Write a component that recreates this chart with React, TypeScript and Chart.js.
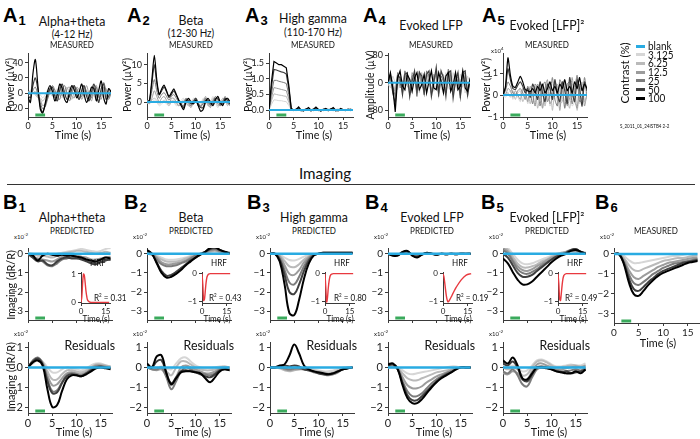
import React, { useEffect, useRef } from "react";
import { Chart, registerables } from "chart.js";
Chart.register(...registerables);

const FONT = "Lato, 'Open Sans', sans-serif";
const BOLD_FONT = "'Liberation Sans', Arial, sans-serif";
const AXIS = "#3a3a3a";
const BLUE = "#29abe2";
const GREEN = "#3aaa5c";
const RED = "#e8393f";

const LEGEND_LABELS = ["blank", "3.125", "6.25", "12.5", "25", "50", "100"];
const GRAYS = ["#d6d6d6", "#bababa", "#9c9c9c", "#7c7c7c", "#3f3f3f", "#000000"];

const STIM = [1.5, 3.5];
const X_TICKS = [0, 5, 10, 15];
const INSET_X_TICKS = [0, 15];

const A_TIME = [0, 0.5, 1, 1.5, 2, 2.5, 3, 3.5, 4, 4.5, 5, 5.5, 6, 6.5, 7, 7.5, 8, 8.5, 9, 9.5, 10, 10.5, 11, 11.5, 12, 12.5, 13, 13.5, 14, 14.5, 15, 15.5, 16, 16.5, 17];
const B_TIME = [0, 1, 2, 3, 4, 5, 6, 7, 8, 9, 10, 11, 12, 13, 14, 15, 16, 17];
const HRF_TIME = [0, 0.5, 1, 1.5, 2, 2.5, 3, 3.5, 4, 5, 6, 8, 11, 14, 17];
const BLANK_TIME = [0, 17];
const BLANK = [0, 0];

// ---- A1 Alpha+theta (measured, uV^2)
const A1_3 = [2, -2, 4, 0, -4, -2, -6, -2, 4, 0, -4, 2, 6, -2, -6, 4, 2, -6, 0, 6, -2, -6, 2, 4, -4, 2, 6, -4, -6, 6, 10, -2, -6, 4, 0];
const A1_6 = [0, 4, 2, -2, -6, -6, -10, -6, 0, 4, -2, -6, 4, 6, -4, 2, 8, -2, -8, 2, 6, -2, -4, 6, 4, -6, 0, 6, -2, -10, 2, 8, -4, 0, 4];
const A1_12 = [2, 2, 0, 2, -4, -8, -16, -14, -4, 6, 4, -4, 2, 8, -2, -6, 6, 8, -4, -6, 8, 4, -8, 0, 10, -2, -10, 4, 10, -4, -8, 8, 6, -6, 2];
const A1_25 = [0, -2, 4, 8, -2, -12, -20, -18, -8, 2, 10, 4, -6, -8, 6, 10, -2, -10, 0, 8, 6, -6, -4, 8, 2, -8, -6, 10, 8, -6, -2, 14, 2, -8, 0];
const A1_50 = [-3, -6, 10, 20, 6, -16, -24, -16, -4, 6, 8, -4, -10, 4, 12, 0, -8, -4, 6, 10, -2, -8, 4, 10, -4, -10, 2, 12, 0, -12, 6, 12, -8, -4, 4];
const A1_100 = [-5, -12, 25, 44, 12, -20, -26, -14, 2, 10, 2, -10, -2, 12, 6, -8, -12, 2, 10, 4, -6, 2, 12, -2, -12, -4, 8, 6, -10, 4, 16, -6, -14, 6, 2];

// ---- A2 Beta
const A2_3 = [-0.5, 0.5, 0, 0.5, 0, -1, -0.5, 0, -0.5, -1, 0.5, 0, -1, -0.5, 0.5, 1, -0.5, -1, 0, 1, 0.5, -1, -0.5, 1, 0.5, -1, 0, 1.5, 0, -1.5, 0, 1, 0, -0.5, 0.5];
const A2_6 = [0.5, 0, 0.5, 1, 0.5, -0.5, 0, 0.5, 0, -1, 0, 0.5, -0.5, -1, 0, 0.5, 0, -1, -1, 0.5, 1, -0.5, -1, 0.5, 1, -1, -1, 1, 0.5, -1, -0.5, 1, 0.5, -1, 0];
const A2_12 = [0, -0.5, 1, 3, 1.5, 0, 1, 1.5, 0.5, -0.5, 1, 1, 0, -1, -0.5, 0, 1, -0.5, -1.5, 0, 1, 0, -1.5, 0, 1.5, -0.5, -1.5, 0.5, 1, -0.5, -1, 0.5, 1, -0.5, -0.5];
const A2_25 = [0, 0, 3, 6, 3, 1, 2, 2.5, 1.5, 0.5, 1.5, 2, 1, 0, -1, -1, 1, 0, -1, 0.5, 1, -1, -1, -0.5, 1, 0, -1, 0, 1.5, 0.5, -1, 0, 1.5, 0, -1];
const A2_50 = [0, 0.3, 5, 10, 5, 2, 3, 4, 2.8, 1.2, 2, 3, 1.8, 0.5, -0.5, -1.5, 0.5, 0.5, -0.5, 0, 1, -0.5, -1.5, -1.5, 0.5, 0.5, -0.5, -0.5, 1, 1, -0.5, -0.5, 1, 0.5, -0.5];
const A2_100 = [0, 0.5, 6, 12.5, 6, 2, 3.5, 4.5, 3, 1.5, 2.5, 3.5, 2, 0.5, -1, -2, 0, 1, 0, -0.5, 0.5, -1, -2.5, -2, 0, 1, 0, -1, 0.5, 1.5, 0, -1, 0.5, 1, 0];

// ---- A3 High gamma
const A3_3 = [0, 0.18, 0.33, 0.32, 0.3, 0.3, 0.28, 0.27, 0.15, 0, 0.01, -0.01, 0.01, 0.02, 0, -0.01, 0.01, 0, 0.02, 0, -0.01, 0.01, 0, 0.02, 0, -0.01, 0.01, 0.02, 0, -0.01, 0, 0.01, 0.02, 0, 0.01];
const A3_6 = [0, 0.3, 0.52, 0.5, 0.48, 0.47, 0.45, 0.44, 0.25, 0.01, -0.01, 0.02, 0, -0.02, 0.01, 0.02, 0, -0.02, 0.01, 0.02, 0, -0.01, 0.02, 0, -0.02, 0.01, 0.02, 0, -0.01, 0.01, 0.02, 0, -0.01, 0.01, 0];
const A3_12 = [0, 0.4, 0.72, 0.7, 0.68, 0.66, 0.64, 0.62, 0.36, 0.02, 0, -0.02, 0.03, 0.02, -0.02, 0, 0.03, 0.02, -0.02, 0.02, 0.03, 0, -0.02, 0.02, 0.03, 0, -0.02, 0.02, 0.03, 0, -0.01, 0.02, 0.01, -0.02, 0.01];
const A3_25 = [0, 0.55, 0.95, 0.95, 0.92, 0.9, 0.88, 0.85, 0.5, 0.03, -0.02, 0.02, 0.04, 0, -0.03, 0.02, 0.04, 0, 0.01, 0.03, -0.02, 0, 0.02, 0.04, 0, 0.02, 0.03, -0.03, 0.01, 0.02, 0, 0.02, -0.01, 0.02, 0.01];
const A3_50 = [0, 0.75, 1.3, 1.28, 1.25, 1.22, 1.2, 1.15, 0.7, 0.04, 0, 0.03, 0.05, -0.02, 0, 0.04, 0.02, -0.03, 0.02, 0.06, 0, -0.02, 0.03, 0.02, -0.02, 0.04, 0.05, -0.02, 0, 0.03, 0, -0.02, 0.02, 0.03, 0];
const A3_100 = [0, 0.9, 1.55, 1.5, 1.45, 1.45, 1.4, 1.35, 0.8, 0.05, 0, 0.02, 0.1, 0, -0.02, 0.03, 0.08, 0, 0.03, 0.1, 0.02, -0.03, 0.02, 0.05, 0, 0.03, 0.08, 0, -0.02, 0.05, 0.02, 0, 0.03, 0, 0.02];

// ---- A4 Evoked LFP (uV)
const A4_3 = [0, -15, 20, 0, -20, 25, 5, -25, 20, 10, -30, 15, 20, -30, 10, 25, -30, 0, 30, -25, -5, 30, -20, -10, 30, -15, -20, 30, -5, -25, 25, 10, -30, 20, 0];
const A4_6 = [-10, 15, 5, -25, 10, 20, -30, 10, 25, -25, -5, 30, -15, -5, 30, -25, -5, 25, -20, -10, 35, -20, -5, 25, -30, 5, 30, -30, 0, 30, -20, -10, 30, -15, -5];
const A4_12 = [10, 10, -25, -20, 25, -15, -5, 30, -10, -20, 30, 10, -30, 25, -10, -20, 30, 5, -35, 25, 15, -30, 10, -15, -20, 35, 5, -25, 30, 0, -35, 25, 10, -30, 0];
const A4_25 = [-5, 20, -10, -40, 30, 0, -20, 35, 15, -35, 20, 25, -40, 35, 5, -35, 35, 20, -30, 15, 30, -40, 20, 5, -30, 40, 20, -35, 20, 15, -45, 35, 25, -40, 5];
const A4_50 = [5, 25, -30, -60, 20, 15, -35, 25, 30, -40, 5, 35, -25, 30, 20, -30, 25, 35, -40, 0, 45, -30, 35, 15, -40, 30, 35, -45, 5, 30, -40, 30, 35, -35, 15];
const A4_100 = [0, 30, -15, -85, 15, 35, -10, -20, 25, 10, -25, 15, 30, -20, -5, 25, -30, 5, 35, -15, -20, 30, 5, -30, 20, 30, -25, -5, 30, -20, -10, 35, -15, -25, 10];

// ---- A5 Evoked [LFP]^2 (x10^4 uV^2)
const A5_3 = [0, -0.1, 0.1, 0.2, -0.2, 0.1, -0.1, -0.3, 0.2, 0.3, -0.4, 0.1, 0.3, -0.5, 0.2, 0.4, -0.6, 0.2, 0.5, -0.5, -0.2, 0.6, -0.3, 0.2, 0.5, -0.6, 0.1, 0.4, -0.5, -0.3, 0.6, -0.4, -0.1, 0.4, -0.2];
const A5_6 = [-0.1, 0.1, 0.1, -0.1, 0.2, -0.2, 0.1, 0.2, -0.3, 0, 0.3, -0.4, 0.2, 0.4, -0.6, 0, 0.5, -0.5, 0.1, 0.6, -0.7, 0.2, 0.5, -0.4, -0.3, 0.7, -0.2, -0.6, 0.5, 0.4, -0.7, 0.1, 0.6, -0.3, 0];
const A5_12 = [0.1, 0, 0.3, 0.2, -0.1, 0.2, 0, -0.2, 0.3, 0.2, -0.3, 0.4, 0, -0.5, 0.5, 0.2, -0.6, 0.3, 0.7, -0.4, -0.1, 0.6, 0.3, -0.7, 0.4, 0.5, -0.5, -0.1, 0.8, -0.2, -0.6, 0.5, 0.4, -0.5, 0.1];
const A5_25 = [0, 0.2, 0.6, 0.4, 0.1, 0, 0.2, 0.3, 0.1, -0.2, 0.4, 0.1, -0.4, 0.5, 0.3, -0.5, 0.4, 0.6, -0.3, 0, 0.8, -0.2, -0.5, 0.7, 0.4, -0.6, 0.5, 0.6, -0.4, 0.2, 0.9, -0.3, -0.2, 0.8, 0];
const A5_50 = [0, 0.3, 1.2, 0.7, 0.3, 0.25, 0.45, 0.6, 0.4, 0.1, 0.3, -0.1, 0.5, 0.2, -0.2, 0.6, 0.1, -0.3, 0.5, 0.3, -0.2, 0.7, 0, -0.3, 0.6, 0.2, -0.4, 0.8, 0.1, -0.3, 0.7, 0.3, -0.5, 0.6, 0.2];
const A5_100 = [0, 0.4, 1.7, 0.9, 0.4, 0.35, 0.6, 0.85, 0.6, 0.25, 0.2, 0.15, 0.3, 0.1, 0.4, 0.2, 0.5, 0.1, 0.3, 0.6, 0.2, 0.4, 0.1, 0.5, 0.3, 0.7, 0.2, 0.4, 0.1, 0.6, 0.3, 0.8, 0.2, 0.5, 0.3];

// ---- B predicted (x10^-2 dR/R)
const B1P_3 = [0.05, 0, -0.05, -0.05, -0.05, -0.1, 0, 0.05, 0.1, 0.15, 0.2, 0.25, 0.2, 0.15, 0.1, 0.15, 0.25, 0.3];
const B1P_6 = [0, -0.05, -0.1, -0.1, -0.15, -0.2, -0.1, 0, 0.05, 0.1, 0.15, 0.15, 0.1, 0.05, 0, 0.05, 0.1, 0.05];
const B1P_12 = [0, -0.15, -0.25, -0.3, -0.35, -0.4, -0.3, -0.15, -0.1, -0.1, -0.1, -0.15, -0.2, -0.3, -0.3, -0.25, -0.2, -0.15];
const B1P_25 = [0, -0.2, -0.3, -0.4, -0.6, -0.65, -0.5, -0.3, -0.25, -0.2, -0.2, -0.25, -0.35, -0.45, -0.5, -0.4, -0.3, -0.3];
const B1P_50 = [0, -0.2, -0.4, -0.35, -0.55, -0.6, -0.4, -0.25, -0.2, -0.25, -0.25, -0.3, -0.4, -0.5, -0.55, -0.45, -0.35, -0.3];
const B1P_100 = [0, -0.1, -0.35, -0.1, 0, -0.05, -0.1, -0.05, -0.1, -0.1, -0.15, -0.2, -0.3, -0.35, -0.4, -0.3, -0.2, -0.25];

const B2P_3 = [0, -0.05, -0.1, -0.2, -0.3, -0.32, -0.3, -0.25, -0.2, -0.1, -0.05, 0, 0.05, 0.1, 0.1, 0.05, 0, 0];
const B2P_6 = [0, -0.05, -0.15, -0.3, -0.4, -0.42, -0.4, -0.35, -0.25, -0.15, -0.05, 0, 0.05, 0.1, 0.15, 0.1, 0.05, 0];
const B2P_12 = [0.05, 0, -0.2, -0.45, -0.55, -0.55, -0.5, -0.45, -0.35, -0.2, -0.1, 0, 0.05, 0.15, 0.2, 0.1, 0.05, 0];
const B2P_25 = [0.1, 0, -0.3, -0.55, -0.65, -0.65, -0.6, -0.5, -0.4, -0.25, -0.1, 0, 0.1, 0.2, 0.25, 0.15, 0.05, 0];
const B2P_50 = [0.15, 0, -0.45, -0.9, -1.15, -1.1, -0.95, -0.75, -0.55, -0.35, -0.2, -0.05, 0.1, 0.25, 0.3, 0.2, 0.1, 0];
const B2P_100 = [0.2, 0, -0.5, -1.0, -1.25, -1.2, -1.05, -0.85, -0.6, -0.4, -0.2, -0.05, 0.1, 0.3, 0.35, 0.2, 0.1, 0.05];

const B3P_3 = [0, 0, -0.05, -0.2, -0.33, -0.35, -0.27, -0.15, -0.06, -0.01, 0, 0.01, 0.01, 0.01, 0.01, 0.01, 0.01, 0.01];
const B3P_6 = [0, 0, -0.1, -0.38, -0.66, -0.7, -0.55, -0.3, -0.12, -0.03, 0, 0.02, 0.02, 0.02, 0.02, 0.02, 0.02, 0.02];
const B3P_12 = [0, 0, -0.15, -0.6, -1.05, -1.1, -0.85, -0.45, -0.18, -0.04, 0, 0.03, 0.03, 0.03, 0.03, 0.03, 0.03, 0.03];
const B3P_25 = [0, 0, -0.25, -0.85, -1.5, -1.6, -1.2, -0.65, -0.25, -0.05, 0, 0.04, 0.04, 0.04, 0.04, 0.04, 0.04, 0.04];
const B3P_50 = [0, 0, -0.3, -1.1, -2.0, -2.1, -1.6, -0.9, -0.35, -0.08, 0, 0.05, 0.05, 0.05, 0.05, 0.05, 0.05, 0.05];
const B3P_100 = [0, 0, -0.4, -1.6, -3.1, -3.2, -2.4, -1.3, -0.5, -0.1, 0, 0.05, 0.05, 0.05, 0.05, 0.05, 0.05, 0.05];

const B4P_3 = [0, -0.02, -0.02, 0.02, 0.03, -0.02, -0.03, 0, 0.01, 0, 0, 0, 0, 0, 0, 0, 0, 0];
const B4P_6 = [0, -0.03, -0.03, 0.03, 0.05, -0.03, -0.05, -0.01, 0.01, 0, -0.01, 0, 0, 0, 0, 0, 0, 0];
const B4P_12 = [0, -0.04, -0.04, 0.04, 0.07, -0.04, -0.08, -0.02, 0.02, 0, -0.02, 0, -0.01, 0, 0, 0, 0, 0];
const B4P_25 = [0, -0.06, -0.06, 0.06, 0.1, -0.06, -0.12, -0.03, 0.03, 0, -0.03, 0, -0.02, 0, -0.01, 0, 0, 0];
const B4P_50 = [0, -0.08, -0.08, 0.08, 0.12, -0.08, -0.15, -0.04, 0.04, 0, -0.04, 0, -0.02, 0, -0.02, 0, 0, 0];
const B4P_100 = [0, -0.1, -0.1, 0.1, 0.15, -0.1, -0.2, -0.05, 0.05, 0, -0.05, 0, -0.03, 0, -0.02, 0, -0.01, 0];

const B5P_3 = [0.5, 0.3, 0, -0.3, -0.5, -0.55, -0.5, -0.4, -0.3, -0.2, -0.1, 0, 0.05, 0.1, 0.1, 0.05, 0, 0];
const B5P_6 = [0.45, 0.2, -0.15, -0.5, -0.7, -0.72, -0.65, -0.55, -0.4, -0.3, -0.15, -0.05, 0.05, 0.1, 0.15, 0.1, 0.05, 0];
const B5P_12 = [0.3, 0.1, -0.3, -0.65, -0.85, -0.9, -0.8, -0.65, -0.5, -0.35, -0.2, -0.1, 0, 0.1, 0.2, 0.15, 0.1, 0];
const B5P_25 = [0.2, 0, -0.4, -0.8, -1.0, -1.05, -0.95, -0.8, -0.6, -0.45, -0.3, -0.15, -0.05, 0.05, 0.15, 0.2, 0.1, 0.05];
const B5P_50 = [0, -0.2, -0.6, -1.0, -1.2, -1.2, -1.1, -0.9, -0.7, -0.5, -0.3, -0.15, -0.05, 0.05, 0.2, 0.25, 0.1, 0];
const B5P_100 = [-0.25, -0.5, -0.95, -1.35, -1.6, -1.6, -1.45, -1.2, -0.95, -0.7, -0.45, -0.25, -0.1, 0, 0.15, 0.2, 0.1, 0];

// ---- B6 measured imaging
const B6_3 = [0.05, 0, -0.1, -0.3, -0.45, -0.45, -0.4, -0.35, -0.3, -0.25, -0.2, -0.15, -0.1, -0.1, -0.05, 0, 0, 0];
const B6_6 = [0, 0, -0.2, -0.55, -0.8, -0.85, -0.75, -0.65, -0.55, -0.45, -0.35, -0.3, -0.25, -0.2, -0.2, -0.15, -0.1, -0.1];
const B6_12 = [0, 0, -0.3, -0.8, -1.15, -1.25, -1.1, -0.95, -0.8, -0.65, -0.55, -0.45, -0.4, -0.35, -0.3, -0.25, -0.2, -0.2];
const B6_25 = [0, 0, -0.4, -1.0, -1.45, -1.55, -1.4, -1.2, -1.0, -0.85, -0.7, -0.6, -0.5, -0.45, -0.4, -0.35, -0.3, -0.25];
const B6_50 = [0, 0, -0.45, -1.2, -1.75, -1.85, -1.65, -1.4, -1.2, -1.0, -0.85, -0.75, -0.65, -0.55, -0.45, -0.4, -0.35, -0.3];
const B6_100 = [0, 0, -0.5, -1.4, -2.0, -2.1, -1.85, -1.55, -1.3, -1.1, -0.95, -0.85, -0.75, -0.65, -0.55, -0.45, -0.4, -0.35];

// ---- B residuals
const B1R_3 = [0, 0.2, 0.35, 0.3, 0, -0.25, -0.25, -0.1, 0, -0.05, -0.1, -0.15, -0.05, 0.1, 0.2, 0.2, 0.1, 0.05];
const B1R_6 = [0, 0.25, 0.4, 0.25, -0.2, -0.6, -0.6, -0.35, -0.15, -0.15, -0.2, -0.25, -0.15, 0, 0.15, 0.15, 0.1, 0.05];
const B1R_12 = [0, 0.3, 0.45, 0.25, -0.4, -0.9, -0.85, -0.55, -0.3, -0.25, -0.3, -0.35, -0.25, -0.05, 0.1, 0.1, 0.05, 0];
const B1R_25 = [0, 0.35, 0.5, 0.2, -0.6, -1.2, -1.15, -0.75, -0.4, -0.3, -0.35, -0.4, -0.3, -0.1, 0.05, 0.05, 0, -0.05];
const B1R_50 = [0, 0.3, 0.45, 0.15, -0.7, -1.3, -1.25, -0.8, -0.45, -0.35, -0.4, -0.45, -0.3, -0.15, 0, 0.05, 0, -0.05];
const B1R_100 = [0, 0.25, 0.35, 0.1, -1.1, -2.0, -1.9, -1.2, -0.6, -0.4, -0.4, -0.45, -0.35, -0.2, -0.05, 0, -0.05, -0.1];

const B2R_3 = [0, 0, 0, 0.05, -0.05, -0.1, 0.2, 0.45, 0.5, 0.3, 0.1, 0, -0.05, -0.05, 0, 0.05, 0.05, 0];
const B2R_6 = [0, 0, -0.1, -0.05, -0.2, -0.4, 0, 0.3, 0.3, 0.15, 0, -0.1, -0.15, -0.15, -0.1, 0, 0.05, 0];
const B2R_12 = [0, -0.1, -0.15, -0.1, -0.45, -0.9, -0.5, 0, 0.1, 0, -0.1, -0.2, -0.3, -0.3, -0.2, -0.05, 0, -0.05];
const B2R_25 = [0, -0.1, -0.1, 0, -0.5, -1.1, -0.7, -0.2, 0, -0.1, -0.2, -0.3, -0.35, -0.4, -0.3, -0.1, -0.05, -0.1];
const B2R_50 = [0.1, 0, 0.3, 0.35, -0.3, -0.8, -0.5, -0.2, -0.15, -0.2, -0.25, -0.35, -0.45, -0.5, -0.35, -0.15, -0.1, -0.15];
const B2R_100 = [0.2, 0, 0.55, 0.6, -0.3, -0.85, -0.55, -0.25, -0.2, -0.2, -0.25, -0.3, -0.55, -0.75, -0.5, -0.2, -0.1, -0.15];

const B3R_3 = [0, 0, -0.05, -0.1, -0.15, -0.1, -0.05, 0, -0.05, -0.1, -0.15, -0.2, -0.2, -0.15, -0.1, 0, 0, 0];
const B3R_6 = [0, 0, -0.05, -0.15, -0.2, -0.15, -0.1, -0.05, -0.1, -0.15, -0.2, -0.25, -0.3, -0.25, -0.15, -0.05, 0, 0];
const B3R_12 = [0, 0, 0, -0.1, -0.15, -0.1, -0.1, -0.1, -0.15, -0.2, -0.3, -0.35, -0.35, -0.3, -0.2, -0.1, 0, 0];
const B3R_25 = [0, 0, 0, -0.05, -0.1, -0.05, -0.05, -0.1, -0.15, -0.25, -0.3, -0.35, -0.4, -0.35, -0.25, -0.1, -0.05, 0];
const B3R_50 = [0, 0, 0.05, 0.1, 0.05, 0.1, 0.05, -0.1, -0.15, -0.2, -0.3, -0.35, -0.35, -0.3, -0.2, -0.1, -0.05, 0];
const B3R_100 = [0, 0, 0.1, 0.15, 0.6, 1.15, 0.7, 0.1, -0.1, -0.2, -0.25, -0.3, -0.35, -0.3, -0.2, -0.1, -0.05, 0];

const B4R_3 = [0, 0, 0, -0.15, -0.3, -0.35, -0.3, -0.25, -0.2, -0.15, -0.1, -0.05, 0, 0.05, 0.05, 0, 0, 0];
const B4R_6 = [0.05, 0.05, -0.05, -0.3, -0.55, -0.65, -0.65, -0.55, -0.45, -0.35, -0.25, -0.2, -0.15, -0.1, -0.05, 0, 0, 0];
const B4R_12 = [0.05, 0.1, -0.05, -0.5, -0.9, -1.05, -1.05, -0.95, -0.75, -0.6, -0.45, -0.35, -0.25, -0.15, -0.05, 0, 0, 0];
const B4R_25 = [0.1, 0.15, -0.05, -0.7, -1.2, -1.45, -1.45, -1.3, -1.05, -0.8, -0.6, -0.45, -0.3, -0.2, -0.1, 0, 0, 0];
const B4R_50 = [0.1, 0.15, -0.1, -0.8, -1.4, -1.65, -1.65, -1.45, -1.2, -0.95, -0.7, -0.5, -0.35, -0.25, -0.1, 0, 0, 0];
const B4R_100 = [0.15, 0.2, -0.1, -0.9, -1.55, -1.8, -1.8, -1.6, -1.3, -1.0, -0.75, -0.55, -0.4, -0.25, -0.1, 0, 0, 0];

const B5R_3 = [0.1, 0, 0.1, 0, -0.2, -0.15, 0.1, 0.35, 0.4, 0.3, 0.15, 0.05, 0.05, 0.1, 0.15, 0.1, 0.1, 0.2];
const B5R_6 = [0, -0.1, 0, -0.1, -0.4, -0.35, 0, 0.3, 0.35, 0.25, 0.1, 0, 0, 0.05, 0.1, 0.1, 0.05, 0.1];
const B5R_12 = [-0.3, -0.35, -0.2, -0.3, -0.6, -0.6, -0.2, 0.15, 0.2, 0.1, 0, -0.1, -0.1, -0.05, 0, 0.05, 0, 0.1];
const B5R_25 = [-0.2, -0.3, -0.1, -0.4, -0.85, -0.95, -0.5, -0.1, 0, 0, -0.1, -0.15, -0.2, -0.2, -0.15, -0.1, -0.15, 0];
const B5R_50 = [0.2, 0.1, 0.3, 0, -0.6, -0.7, -0.35, 0, 0.05, 0, -0.1, -0.2, -0.25, -0.2, -0.3, -0.25, -0.2, -0.1];
const B5R_100 = [0.35, 0.2, 0.5, 0.1, -0.55, -0.6, -0.3, 0, 0, -0.05, -0.1, -0.2, -0.25, -0.3, -0.3, -0.2, -0.3, -0.1];

// ---- HRFs (normalised)
const HRF_B1 = [0, 0.2, 0.7, 1, 0.95, 0.7, 0.4, 0.2, 0.08, 0.02, 0, 0, 0, 0, 0];
const HRF_B2 = [0, -0.4, -0.95, -0.9, -0.6, -0.3, -0.12, -0.05, -0.02, 0, 0, 0, 0, 0, 0];
const HRF_B3 = [0, -0.5, -1, -0.85, -0.5, -0.25, -0.1, -0.04, -0.02, 0, 0, 0, 0, 0, 0];
const HRF_B4 = [0, -0.1, -0.3, -0.55, -0.78, -0.93, -1, -0.98, -0.93, -0.82, -0.7, -0.48, -0.22, -0.05, 0];
const HRF_B5 = [0, -0.35, -0.9, -0.95, -0.7, -0.4, -0.18, -0.07, -0.03, 0, 0, 0, 0, 0, 0];
const R2 = ["0.31", "0.43", "0.80", "0.19", "0.49"];

const A_TITLES = ["Alpha+theta", "Beta", "High gamma", "Evoked LFP", "Evoked [LFP]\u00b2"];
const A_SUBTITLES = ["(4-12 Hz)", "(12-30 Hz)", "(110-170 Hz)", "", ""];

// ---------------------------------------------------------------------------

const intFmt = (v: number) => (v < 0 ? "\u2212" + Math.abs(v) : String(v));
const decFmt = (v: number) => v.toFixed(1);

const stimPlugin = {
  id: "stim",
  afterDatasetsDraw(chart: any) {
    const { ctx, chartArea, scales } = chart;
    const x0 = scales.x.getPixelForValue(STIM[0]);
    const x1 = scales.x.getPixelForValue(STIM[1]);
    ctx.save();
    ctx.strokeStyle = GREEN;
    ctx.lineWidth = 3;
    ctx.beginPath();
    ctx.moveTo(x0, chartArea.bottom - 2);
    ctx.lineTo(x1, chartArea.bottom - 2);
    ctx.stroke();
    ctx.restore();
  },
};

type Line = { time: number[]; data: number[]; color: string; width: number };

function contrastLines(time: number[], series: number[][], grayW: number, blackW: number, blueW: number): Line[] {
  const lines: Line[] = [{ time: BLANK_TIME, data: BLANK, color: BLUE, width: blueW }];
  for (let i = series.length - 1; i >= 0; i--) {
    lines.push({ time, data: series[i], color: GRAYS[i], width: i >= 4 ? blackW : grayW });
  }
  return lines;
}

type Spec = {
  x: number; y: number; w: number; h: number;
  xMax: number; yMin: number; yMax: number;
  yTicks: number[]; fmt: (v: number) => string;
  xLabels: boolean; xTicks?: number[];
  lines: Line[]; tension: number; stim: boolean;
  font: number; padL?: number; padB?: number;
};

function Panel({ spec }: { spec: Spec }) {
  const ref = useRef<HTMLCanvasElement | null>(null);
  const padL = spec.padL ?? 26;
  const padR = 8;
  const padT = 6;
  const padB = spec.padB ?? (spec.xLabels ? 18 : 5);
  const W = padL + spec.w + padR;
  const H = padT + spec.h + padB;
  useEffect(() => {
    const xt = spec.xTicks ?? X_TICKS;
    const chart = new Chart(ref.current as HTMLCanvasElement, {
      type: "line",
      data: {
        datasets: spec.lines.map((l) => ({
          data: l.time.map((t, i) => ({ x: t, y: l.data[i] })),
          borderColor: l.color,
          borderWidth: l.width,
          pointRadius: 0,
          tension: spec.tension,
          fill: false,
        })),
      },
      options: {
        animation: false,
        responsive: false,
        maintainAspectRatio: false,
        events: [],
        layout: { padding: { left: 0, right: padR, top: padT, bottom: 0 } },
        plugins: { legend: { display: false }, tooltip: { enabled: false } },
        scales: {
          x: {
            type: "linear",
            min: 0,
            max: spec.xMax,
            afterBuildTicks: (s: any) => { s.ticks = xt.map((v) => ({ value: v })); },
            afterFit: (s: any) => { s.height = padB; },
            ticks: { display: spec.xLabels, font: { family: FONT, size: spec.font }, color: "#222", padding: 1, maxRotation: 0, autoSkip: false },
            grid: { drawOnChartArea: false, drawTicks: true, tickLength: 3, color: AXIS },
            border: { color: AXIS, width: 1 },
          },
          y: {
            type: "linear",
            min: spec.yMin,
            max: spec.yMax,
            afterBuildTicks: (s: any) => { s.ticks = spec.yTicks.map((v) => ({ value: v })); },
            afterFit: (s: any) => { s.width = padL; },
            ticks: { font: { family: FONT, size: spec.font }, color: "#222", padding: 2, autoSkip: false, callback: (v: any) => spec.fmt(Number(v)) },
            grid: { drawOnChartArea: false, drawTicks: true, tickLength: 3, color: AXIS },
            border: { color: AXIS, width: 1 },
          },
        },
      } as any,
      plugins: spec.stim ? [stimPlugin] : [],
    });
    return () => chart.destroy();
  }, []);
  return (
    <canvas
      ref={ref}
      width={W}
      height={H}
      style={{ position: "absolute", left: spec.x - padL, top: spec.y - padT, width: W, height: H }}
    />
  );
}

function T(props: {
  x: number; y: number; s: React.ReactNode; size: number; anchor?: "start" | "middle" | "end";
  rotate?: boolean; sx?: number; weight?: number; color?: string; family?: string;
}) {
  const { x, y, s, size, anchor = "middle", rotate = false, sx = 0.9, weight = 400, color = "#111", family = FONT } = props;
  const tx = anchor === "middle" ? "-50%" : anchor === "end" ? "-100%" : "0";
  const origin = anchor === "start" ? "0 50%" : anchor === "end" ? "100% 50%" : "50% 50%";
  return (
    <div
      style={{
        position: "absolute", left: x, top: y, whiteSpace: "nowrap", fontFamily: family, fontSize: size,
        fontWeight: weight, color, lineHeight: 1, transformOrigin: origin,
        transform: `translate(${tx}, -50%) ${rotate ? "rotate(-90deg)" : ""} scaleX(${sx})`,
      }}
    >
      {s}
    </div>
  );
}

function Label({ x, y, letter, num }: { x: number; y: number; letter: string; num: number }) {
  return (
    <div style={{ position: "absolute", left: x, top: y, fontFamily: BOLD_FONT, fontWeight: 700, fontSize: 20, lineHeight: "20px", whiteSpace: "nowrap", color: "#000" }}>
      {letter}
      <span style={{ fontSize: 13, position: "relative", top: 3, marginLeft: 1 }}>{num}</span>
    </div>
  );
}

function Exp({ x, y, e }: { x: number; y: number; e: string }) {
  return (
    <div style={{ position: "absolute", left: x, top: y, fontFamily: FONT, fontSize: 6, lineHeight: 1, color: "#222", whiteSpace: "nowrap" }}>
      x10<sup style={{ fontSize: 4.5 }}>{e}</sup>
    </div>
  );
}

export default function App() {
  const A_SERIES = [
    [A1_3, A1_6, A1_12, A1_25, A1_50, A1_100],
    [A2_3, A2_6, A2_12, A2_25, A2_50, A2_100],
    [A3_3, A3_6, A3_12, A3_25, A3_50, A3_100],
    [A4_3, A4_6, A4_12, A4_25, A4_50, A4_100],
    [A5_3, A5_6, A5_12, A5_25, A5_50, A5_100],
  ];
  const A_X = [28, 147, 269, 388, 503];
  const A_W = [83, 83, 84, 82, 84];
  const A_RANGE = [[-31, 52], [-4, 13], [-0.22, 1.81], [-100, 86], [-1, 1.9]];
  const A_YT = [[-20, 0, 20, 40], [0, 5, 10], [0, 0.5, 1, 1.5], [-80, 0, 80], [-1, 0, 1]];
  const A_TENSION = [0.3, 0.25, 0, 0, 0.2];
  const A_TOP = 52, A_H = 65;

  const BP_SERIES = [
    [B1P_3, B1P_6, B1P_12, B1P_25, B1P_50, B1P_100],
    [B2P_3, B2P_6, B2P_12, B2P_25, B2P_50, B2P_100],
    [B3P_3, B3P_6, B3P_12, B3P_25, B3P_50, B3P_100],
    [B4P_3, B4P_6, B4P_12, B4P_25, B4P_50, B4P_100],
    [B5P_3, B5P_6, B5P_12, B5P_25, B5P_50, B5P_100],
  ];
  const BR_SERIES = [
    [B1R_3, B1R_6, B1R_12, B1R_25, B1R_50, B1R_100],
    [B2R_3, B2R_6, B2R_12, B2R_25, B2R_50, B2R_100],
    [B3R_3, B3R_6, B3R_12, B3R_25, B3R_50, B3R_100],
    [B4R_3, B4R_6, B4R_12, B4R_25, B4R_50, B4R_100],
    [B5R_3, B5R_6, B5R_12, B5R_25, B5R_50, B5R_100],
  ];
  const HRFS = [HRF_B1, HRF_B2, HRF_B3, HRF_B4, HRF_B5];
  const B_X = [28, 147, 270, 388, 503];
  const B_W = 84;
  const BP_TOP = 246, BP_H = 77;
  const BR_TOP = 340, BR_H = 73;
  const INSET_X = [81, 202, 325, 443, 558];
  const INSET_TOP = 272, INSET_H = 31, INSET_W = 29;
  const R2_OFF = [13, 7, 9, 13, 7];

  const specs: Spec[] = [];
  A_SERIES.forEach((ser, i) => {
    specs.push({
      x: A_X[i], y: A_TOP, w: A_W[i], h: A_H, xMax: 17,
      yMin: A_RANGE[i][0], yMax: A_RANGE[i][1], yTicks: A_YT[i], fmt: i === 2 ? decFmt : intFmt,
      xLabels: true, lines: contrastLines(A_TIME, ser, 1, 1.2, 2), tension: A_TENSION[i], stim: true, font: 9, padB: 16,
    });
  });
  BP_SERIES.forEach((ser, i) => {
    specs.push({
      x: B_X[i], y: BP_TOP, w: B_W, h: BP_H, xMax: 17.3, yMin: -3.46, yMax: 0.3,
      yTicks: [-3, -2, -1, 0], fmt: intFmt, xLabels: false,
      lines: contrastLines(B_TIME, ser, 2, 2, 2.5), tension: 0.4, stim: true, font: 10,
    });
  });
  specs.push({
    x: 614, y: BP_TOP, w: 85, h: BP_H, xMax: 17.3, yMin: -3.46, yMax: 0.3,
    yTicks: [-3, -2, -1, 0], fmt: intFmt, xLabels: true,
    lines: contrastLines(B_TIME, [B6_3, B6_6, B6_12, B6_25, B6_50, B6_100], 2, 2, 2.5),
    tension: 0.4, stim: true, font: 10, padB: 16,
  });
  BR_SERIES.forEach((ser, i) => {
    specs.push({
      x: B_X[i], y: BR_TOP, w: B_W, h: BR_H, xMax: 17.3, yMin: -2.3, yMax: 1.25,
      yTicks: [-2, -1, 0, 1], fmt: intFmt, xLabels: true,
      lines: contrastLines(B_TIME, ser, 2, 2, 2.5), tension: 0.4, stim: true, font: 11, padB: 18,
    });
  });
  HRFS.forEach((h, i) => {
    const pos = i === 0;
    specs.push({
      x: INSET_X[i], y: INSET_TOP, w: INSET_W, h: INSET_H, xMax: 17.5,
      yMin: pos ? -0.02 : -1.04, yMax: pos ? 1.04 : 0.03, yTicks: pos ? [0, 1] : [-1, 0], fmt: intFmt,
      xLabels: true, xTicks: INSET_X_TICKS,
      lines: [{ time: HRF_TIME, data: h, color: RED, width: 1.4 }],
      tension: 0.35, stim: false, font: 8, padL: 14, padB: 12,
    });
  });

  const aCenters = A_X.map((x, i) => x + A_W[i] / 2);
  const bCenters = B_X.map((x) => x + B_W / 2);

  return (
    <div style={{ position: "absolute", left: 0, top: 0, width: 700, height: 439, background: "#fff", overflow: "hidden" }}>
      {specs.map((s, i) => <Panel key={i} spec={s} />)}

      {/* Row A labels & titles */}
      {[3, 127, 245, 363, 482].map((x, i) => <Label key={"al" + i} x={x} y={5} letter="A" num={i + 1} />)}
      {A_TITLES.map((t, i) => (
        <T key={"at" + i} x={aCenters[i] + 2} y={[21, 20, 18, 25, 25][i]} s={t} size={13} sx={0.95} />
      ))}
      {A_SUBTITLES.map((t, i) => t ? <T key={"as" + i} x={aCenters[i] + 2} y={[33, 32, 31][i]} s={t} size={11} sx={0.9} /> : null)}
      {aCenters.map((c, i) => <T key={"am" + i} x={c + 2} y={44.5} s="MEASURED" size={9.5} sx={0.85} />)}
      {aCenters.map((c, i) => <T key={"ax" + i} x={c + 3} y={135} s="Time (s)" size={12} sx={0.9} />)}
      {[10, 127, 248, 370, 486].map((x, i) => (
        <T key={"ay" + i} x={x} y={85} s={i === 3 ? "Amplitude (\u00b5V)" : "Power (\u00b5V\u00b2)"} size={11.5} rotate sx={0.9} />
      ))}
      <Exp x={491} y={47} e="4" />

      {/* Legend */}
      <T x={625} y={73} s="Contrast (%)" size={12} rotate sx={0.95} />
      {LEGEND_LABELS.map((l, i) => (
        <React.Fragment key={"lg" + i}>
          <div style={{ position: "absolute", left: 636, top: 46 + i * 8.7 - 1.5, width: 9, height: 3, background: i === 0 ? BLUE : GRAYS[i - 1] }} />
          <T x={648} y={46 + i * 8.7} s={l} size={10.5} anchor="start" sx={0.95} />
        </React.Fragment>
      ))}
      <T x={620} y={126} s="S_2011_01_24ISTB4 2-2" size={5} anchor="start" sx={0.9} />

      {/* Imaging header */}
      <T x={325} y={173} s="Imaging" size={16} sx={0.95} />
      <div style={{ position: "absolute", left: 7, top: 183.5, width: 688, height: 1, background: "#333" }} />

      {/* Row B labels & titles */}
      {[3, 124, 247, 365, 481, 595].map((x, i) => <Label key={"bl" + i} x={x} y={192} letter="B" num={i + 1} />)}
      {A_TITLES.map((t, i) => <T key={"bt" + i} x={bCenters[i] + 2} y={217} s={t} size={13} sx={0.95} />)}
      {bCenters.map((c, i) => <T key={"bp" + i} x={c + 2} y={231} s="PREDICTED" size={9.5} sx={0.85} />)}
      <T x={656} y={231} s="MEASURED" size={9.5} sx={0.85} />
      {bCenters.map((c, i) => <T key={"bx" + i} x={c + 4} y={432} s="Time (s)" size={12} sx={0.9} />)}
      <T x={658} y={343} s="Time (s)" size={12} sx={0.9} />
      {B_X.map((x, i) => <T key={"br" + i} x={x + B_W + 3} y={345} s="Residuals" size={13} anchor="end" sx={0.95} />)}
      {[...B_X, 614].map((x, i) => <Exp key={"be" + i} x={x - 14} y={233} e={"-2"} />)}
      {B_X.map((x, i) => <Exp key={"bre" + i} x={x - 14} y={330} e={"-2"} />)}
      <T x={11} y={285} s="Imaging (dR/R)" size={12} rotate sx={0.9} />
      <T x={11} y={377} s="Imaging (dR/R)" size={12} rotate sx={0.9} />

      {/* HRF inset texts */}
      {INSET_X.map((x, i) => (
        <React.Fragment key={"hi" + i}>
          <T x={x + 17} y={262} s="HRF" size={9} sx={0.9} />
          <T x={x + R2_OFF[i]} y={297} s={<span>R<sup style={{ fontSize: 5 }}>2</sup> = {R2[i]}</span>} size={9} anchor="start" sx={0.9} />
          <T x={x + 15} y={318} s="Time (s)" size={9} sx={0.9} />
        </React.Fragment>
      ))}
    </div>
  );
}
